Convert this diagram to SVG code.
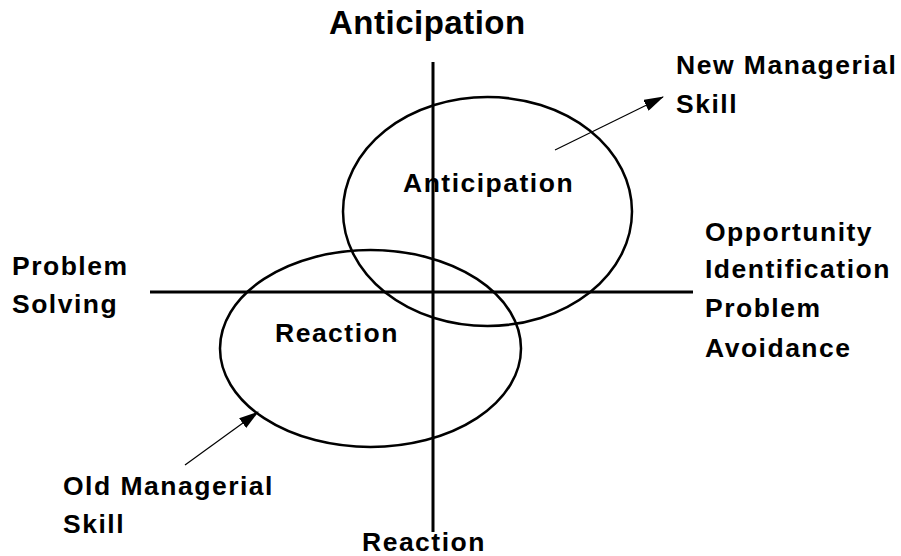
<svg xmlns="http://www.w3.org/2000/svg" width="901" height="556" viewBox="0 0 901 556">
<style>
text{font-family:"Liberation Sans",Arial,sans-serif;font-weight:bold;font-size:26.5px;letter-spacing:1.5px;fill:#000}
.title{font-size:33px;letter-spacing:0.5px}
.axis{stroke:#000;stroke-width:3;fill:none}
.ell{stroke:#000;stroke-width:2.5;fill:none}
.arr{stroke:#000;stroke-width:1.2;fill:none;marker-end:url(#ah)}
</style>
<defs>
<marker id="ah" markerWidth="20" markerHeight="12" refX="19" refY="6" orient="auto" markerUnits="userSpaceOnUse">
<path d="M0,0 L20,6 L0,12 Z" fill="#000"/>
</marker>
</defs>
<g id="connectors">
<line class="axis" x1="433" y1="62" x2="433" y2="532"/>
<line class="axis" x1="150" y1="292" x2="693" y2="292"/>
<line class="arr" x1="555" y1="150" x2="663" y2="97"/>
<line class="arr" x1="185" y1="465" x2="258" y2="412"/>
</g>
<g id="ellipse-anticipation"><ellipse class="ell" cx="487.5" cy="211.5" rx="144.5" ry="114.5"/><text x="403" y="192">Anticipation</text></g>
<g id="ellipse-reaction"><ellipse class="ell" cx="370.5" cy="348.5" rx="150.5" ry="98.5"/><text x="275" y="342">Reaction</text></g>
<g id="label-top"><text class="title" x="329" y="34">Anticipation</text></g>
<g id="label-bottom"><text x="362" y="551">Reaction</text></g>
<g id="label-left"><text x="12" y="275">Problem</text><text x="12" y="313">Solving</text></g>
<g id="label-right"><text x="705" y="241">Opportunity</text><text x="705" y="278">Identification</text><text x="705" y="317">Problem</text><text x="705" y="357">Avoidance</text></g>
<g id="label-new"><text x="676" y="74">New Managerial</text><text x="676" y="113">Skill</text></g>
<g id="label-old"><text x="63" y="495">Old Managerial</text><text x="63" y="533">Skill</text></g>
</svg>
